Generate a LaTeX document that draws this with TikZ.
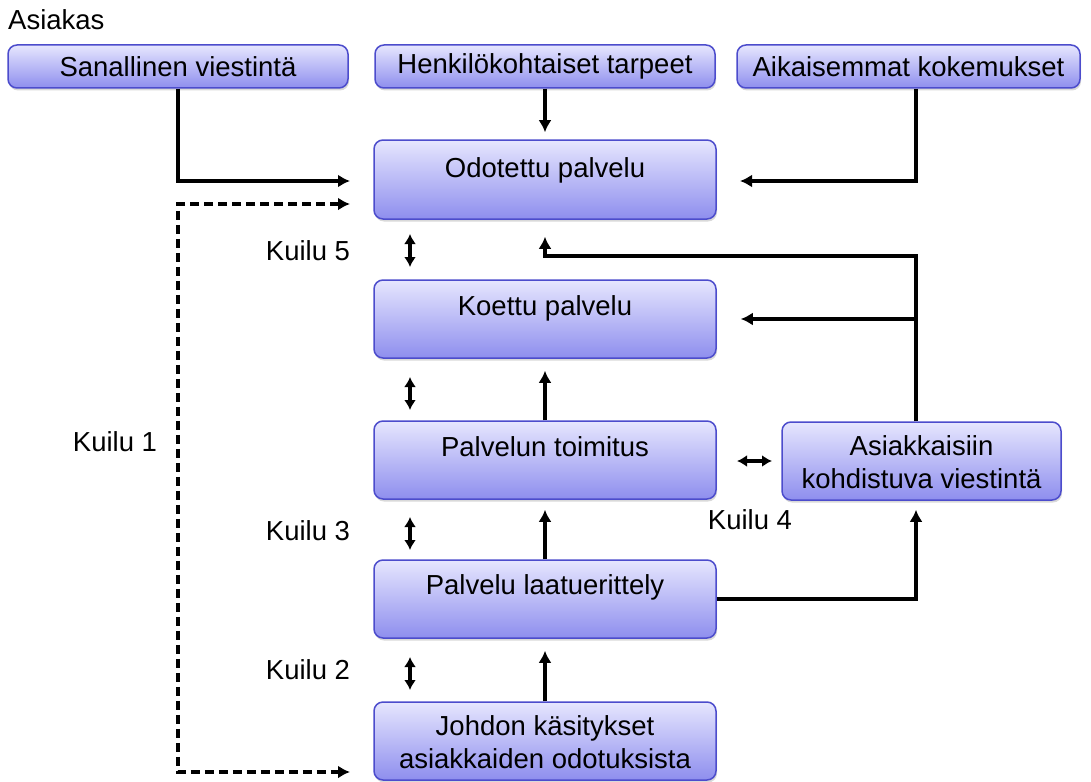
\documentclass[tikz,border=0pt]{standalone}
\usepackage{fontspec}
\setmainfont{Liberation Sans}
\usetikzlibrary{arrows.meta,shadows}
\definecolor{boxtop}{HTML}{E6E6FE}
\definecolor{boxbot}{HTML}{8E8EEE}
\definecolor{boxline}{HTML}{4C4CCC}
\tikzset{
  box/.style={rounded corners=9pt, draw=boxline, line width=1.5pt,
    top color=boxtop, bottom color=boxbot, inner sep=0pt,
    drop shadow={shadow xshift=1pt, shadow yshift=-2.5pt, opacity=0.25, fill=black!60}},
  txt/.style={font=\fontsize{27.5}{33}\selectfont, align=center, inner sep=0pt},
  arr/.style={line width=3.2pt, -{Latex[length=12pt,width=13pt]}},
  gap/.style={line width=3.2pt, {Latex[length=10pt,width=12pt]}-{Latex[length=10pt,width=12pt]}},
  dasharr/.style={line width=3.2pt, dash pattern=on 9pt off 5pt, {Latex[length=12pt,width=13pt]}-{Latex[length=12pt,width=13pt]}},
}
\begin{document}
\begin{tikzpicture}[x=1pt,y=-1pt]
\useasboundingbox (0,0) rectangle (1091,781);

% customer row
\node[txt, anchor=west] (asiakas) at (8,20) {Asiakas};
\node[box, minimum width=340, minimum height=43] (san) at (178,66.5) {};
\node[txt] (sanT) at (178,66.5) {Sanallinen viestintä};
\node[box, minimum width=340, minimum height=43] (hen) at (545,66.5) {};
\node[txt] (henT) at (545,66.5) {Henkilökohtaiset tarpeet};
\node[box, minimum width=343, minimum height=43] (aik) at (908.5,66.5) {};
\node[txt] (aikT) at (908.5,66.5) {Aikaisemmat kokemukset};

% central column
\node[box, minimum width=342, minimum height=79] (odo) at (545,179.5) {};
\node[txt] (odoT) at (545,170) {Odotettu palvelu};
\node[box, minimum width=342, minimum height=78] (koe) at (545,319) {};
\node[txt] (koeT) at (545,308) {Koettu palvelu};
\node[box, minimum width=342, minimum height=78] (toi) at (545,460) {};
\node[txt] (toiT) at (545,447) {Palvelun toimitus};
\node[box, minimum width=342, minimum height=78] (laa) at (545,599) {};
\node[txt] (laaT) at (545,587) {Palvelu laatuerittely};
\node[box, minimum width=342, minimum height=78] (joh) at (545,741) {};
\node[txt] (johT) at (545,742) {Johdon käsitykset\\asiakkaiden odotuksista};
\node[box, minimum width=279, minimum height=78] (asi) at (921.5,461) {};
\node[txt] (asiT) at (921.5,462) {Asiakkaisiin\\kohdistuva viestintä};

% gap labels
\node[txt] (k5) at (308,251) {Kuilu 5};
\node[txt] (k3) at (308,531) {Kuilu 3};
\node[txt] (k2) at (308,670) {Kuilu 2};
\node[txt] (k4) at (750,520) {Kuilu 4};
\node[txt] (k1) at (115,442) {Kuilu 1};

% helper points
\coordinate (sanEnd) at (350,181);
\coordinate (aikEnd) at (740,181);
\coordinate (fb) at (916,256);
\coordinate (dTop) at (350,204);
\coordinate (dBot) at (350,772);

% connectors
\draw[arr] (san.south) |- (sanEnd);
\draw[arr, shorten >=7pt] (hen.south) -- (odo.north);
\draw[arr] ([xshift=7.5pt]aik.south) |- (aikEnd);
\draw[arr, shorten >=17pt] ([xshift=-5.5pt]asi.north) -- (fb) -| (odo.south);
\draw[arr, shorten >=24pt] (koe.east -| fb) -- (koe.east);
\draw[arr, shorten >=12pt] (toi.north) -- (koe.south);
\draw[arr, shorten >=10pt] (laa.north) -- (toi.south);
\draw[arr, shorten >=12pt] (joh.north) -- (laa.south);
\draw[arr, shorten >=9pt] (laa.east) -| ([xshift=-5.5pt]asi.south);
\draw[dasharr] (dTop) -| (178,488) |- (dBot);

% gap markers
\draw[gap] (410,234) -- (410,267);
\draw[gap] (410,377) -- (410,410);
\draw[gap] (410,517) -- (410,550);
\draw[gap] (410,657) -- (410,690);
\draw[gap] (737,461) -- (772,461);
\end{tikzpicture}
\end{document}
